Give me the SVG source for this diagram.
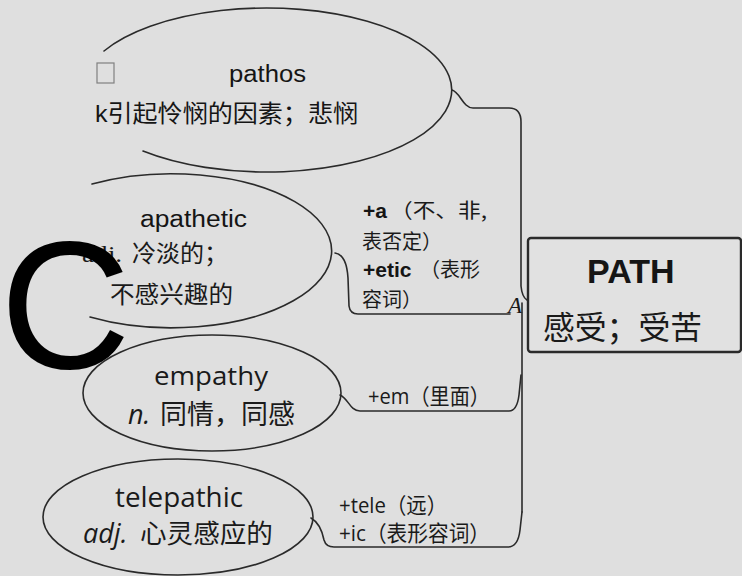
<svg xmlns="http://www.w3.org/2000/svg" width="742" height="576" viewBox="0 0 742 576">
<style>
.bg{fill:#dfdfdf}
.ln{fill:none;stroke:#2a2a2a;stroke-width:1.6;stroke-linecap:round;stroke-linejoin:round}
.sans{font-family:"Liberation Sans","Noto Sans CJK SC",sans-serif;fill:#151515}
.serif{font-family:"Liberation Serif","Noto Sans CJK SC",serif;fill:#1a1a1a}
.open{font-family:"Open Sans","Noto Sans CJK SC",sans-serif;fill:#1a1a1a}
.cjk{font-family:"Noto Sans CJK SC",sans-serif;fill:#1a1a1a}
</style>
<rect class="bg" x="0" y="0" width="742" height="576"/>

<g id="connectors">
  <path class="ln" d="M452,90 C460,92 463,108 473,108 L509,108 Q521,108 521,122 L521,286 Q522,297 527,300"/>
  <path class="ln" d="M522,303 L522,512"/>
  <path class="ln" d="M335,253 C343,254 347,262 348,278 L349,306 Q350,314 358,314 L510,314"/>
  <path class="ln" d="M340,395 C348,398 350,411 360,411 L509,411 Q517,411 519,395 L521,375"/>
  <path class="ln" d="M311,518 C318,522 322,530 324,540 Q326,547 334,547 L508,547 Q518,547 520,530 L522,512"/>
</g>

<g id="node-pathos">
  <path class="ln" d="M104,51 A185,82 0 1,1 143,151"/>
  <rect x="97" y="63" width="17" height="20" fill="none" stroke="#808080" stroke-width="1.2"/>
  <text class="sans" x="229" y="82" font-size="23" textLength="77" lengthAdjust="spacingAndGlyphs">pathos</text>
  <text class="sans" x="95" y="122" font-size="24" textLength="263" lengthAdjust="spacingAndGlyphs">k引起怜悯的因素；悲悯</text>
</g>

<g id="node-apathetic">
  <path class="ln" d="M92,184 A160,77 0 1,1 90,317"/>
  <text class="sans" x="140" y="227" font-size="23" textLength="107" lengthAdjust="spacingAndGlyphs">apathetic</text>
  <text class="serif" x="82" y="262" font-size="24"><tspan textLength="40" lengthAdjust="spacingAndGlyphs">adj.</tspan><tspan x="132">冷淡的；</tspan></text>
  <text class="serif" x="110" y="303" font-size="24" textLength="123" lengthAdjust="spacingAndGlyphs">不感兴趣的</text>
</g>

<g id="big-c">
  <text x="0" y="368" font-family="Liberation Sans, Arial, sans-serif" font-size="181" fill="#000">C</text>
</g>

<g id="node-empathy">
  <ellipse class="ln" cx="212" cy="393" rx="129" ry="58"/>
  <text class="open" x="154" y="385" font-size="26" textLength="114" lengthAdjust="spacingAndGlyphs">empathy</text>
  <text class="open" x="128" y="424" font-size="27"><tspan font-style="italic">n.</tspan><tspan x="160" font-size="27">同情，同感</tspan></text>
</g>

<g id="node-telepathic">
  <ellipse class="ln" cx="178" cy="517" rx="135" ry="58"/>
  <text class="open" x="115" y="507" font-size="27" textLength="128" lengthAdjust="spacingAndGlyphs">telepathic</text>
  <text class="open" x="83" y="543" font-size="27"><tspan font-style="italic">adj.</tspan><tspan x="140" font-size="26.6">心灵感应的</tspan></text>
</g>

<g id="labels">
  <text class="sans" x="363" y="218" font-size="21"><tspan font-weight="bold">+a</tspan><tspan class="cjk" x="390" font-size="20" textLength="97" lengthAdjust="spacingAndGlyphs">（不、非,</tspan></text>
  <text class="cjk" x="362" y="249" font-size="20">表否定）</text>
  <text class="sans" x="363" y="277" font-size="21"><tspan font-weight="bold">+etic</tspan><tspan class="cjk" x="420" font-size="20">（表形</tspan></text>
  <text class="cjk" x="362" y="307" font-size="20">容词）</text>
  <text class="open" x="368" y="404" font-size="22" textLength="122" lengthAdjust="spacingAndGlyphs">+em（里面）</text>
  <text class="open" x="339" y="513" font-size="22" textLength="108" lengthAdjust="spacingAndGlyphs">+tele（远）</text>
  <text class="open" x="339" y="541" font-size="22" textLength="151" lengthAdjust="spacingAndGlyphs">+ic（表形容词）</text>
  <text x="508" y="313" font-family="Liberation Serif, serif" font-style="italic" font-size="23" fill="#1a1a1a">A</text>
</g>

<g id="node-path">
  <rect x="528" y="238" width="213" height="114" rx="3" fill="#e1e1e1" stroke="#2a2a2a" stroke-width="2.4"/>
  <text class="sans" x="587" y="283" font-size="34" font-weight="bold">PATH</text>
  <text class="serif" x="543" y="339" font-size="32" textLength="159" lengthAdjust="spacingAndGlyphs">感受；受苦</text>
</g>
</svg>
